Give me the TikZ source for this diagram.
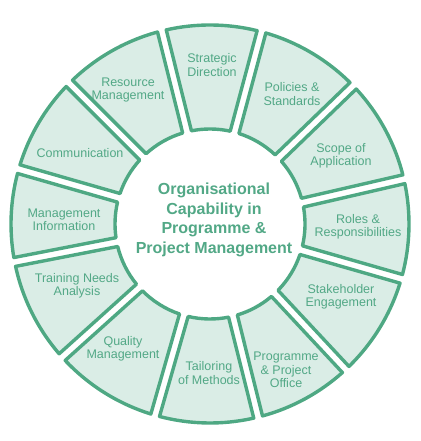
\documentclass[tikz,border=0pt]{standalone}
\usepackage{fontspec}
\setmainfont{Liberation Sans}
\usetikzlibrary{positioning}

\definecolor{ringline}{RGB}{78,168,131}
\definecolor{ringfill}{RGB}{218,237,230}
\definecolor{ringtext}{RGB}{82,168,134}

\begin{document}
\begin{tikzpicture}[
  x=1bp, y=1bp,
  every node/.style={font=\fontsize{12.5bp}{13.5bp}\selectfont, text=ringtext},
  seg/.style={draw=ringline, fill=ringfill, line width=3.4bp, line join=round},
  lbl/.style={align=center, inner sep=0pt},
  core/.style={align=center, inner sep=0pt,
               font=\fontsize{16bp}{19.5bp}\selectfont\bfseries}]

\useasboundingbox (0,0) rectangle (420,441);

% ring of twelve sectors (edges as drawn in the sketch)
\begin{scope}[shift={(210,217)}]
\foreach \a/\b in {75/104, 44/75, 13/44, -16/13, -47/-16, -76/-47,
                   -106/-76, -138/-106, -169/-138, -196/-169, -225/-196, -256/-225} {
  \pgfmathsetmacro\oa{\a+asin(4.5/199)}
  \pgfmathsetmacro\ob{\b-asin(4.5/199)}
  \pgfmathsetmacro\ia{\a+asin(4.5/95)}
  \pgfmathsetmacro\ib{\b-asin(4.5/95)}
  \draw[seg] (\oa:199bp) arc[start angle=\oa, end angle=\ob, radius=199bp]
    -- (\ib:95bp) arc[start angle=\ib, end angle=\ia, radius=95bp] -- cycle;
}
\end{scope}

\node[core] (cap) at (214,221) {Organisational\\Capability in\\Programme \&\\Project Management};

\node[lbl] (strat) at (212,376) {Strategic\\Direction};
\node[lbl] (pol)   at (292,347) {Policies \&\\Standards};
\node[lbl] (scope) at (341,285) {Scope of\\Application};
\node[lbl] (roles) at (358,214) {Roles \&\\Responsibilities};
\node[lbl] (stake) at (341,144) {Stakeholder\\Engagement};
\node[lbl] (ppo)   at (286,71)  {Programme\\\& Project\\Office};
\node[lbl] (tail)  at (209,68)  {Tailoring\\of Methods};
\node[lbl] (qual)  at (123,92)  {Quality\\Management};
\node[lbl] (train) at (77,155)  {Training Needs\\Analysis};
\node[lbl] (mgmt)  at (64,221)  {Management\\Information};
\node[lbl] (comm)  at (80,288)  {Communication};
\node[lbl] (res)   at (128,351) {Resource\\Management};
\end{tikzpicture}
\end{document}
